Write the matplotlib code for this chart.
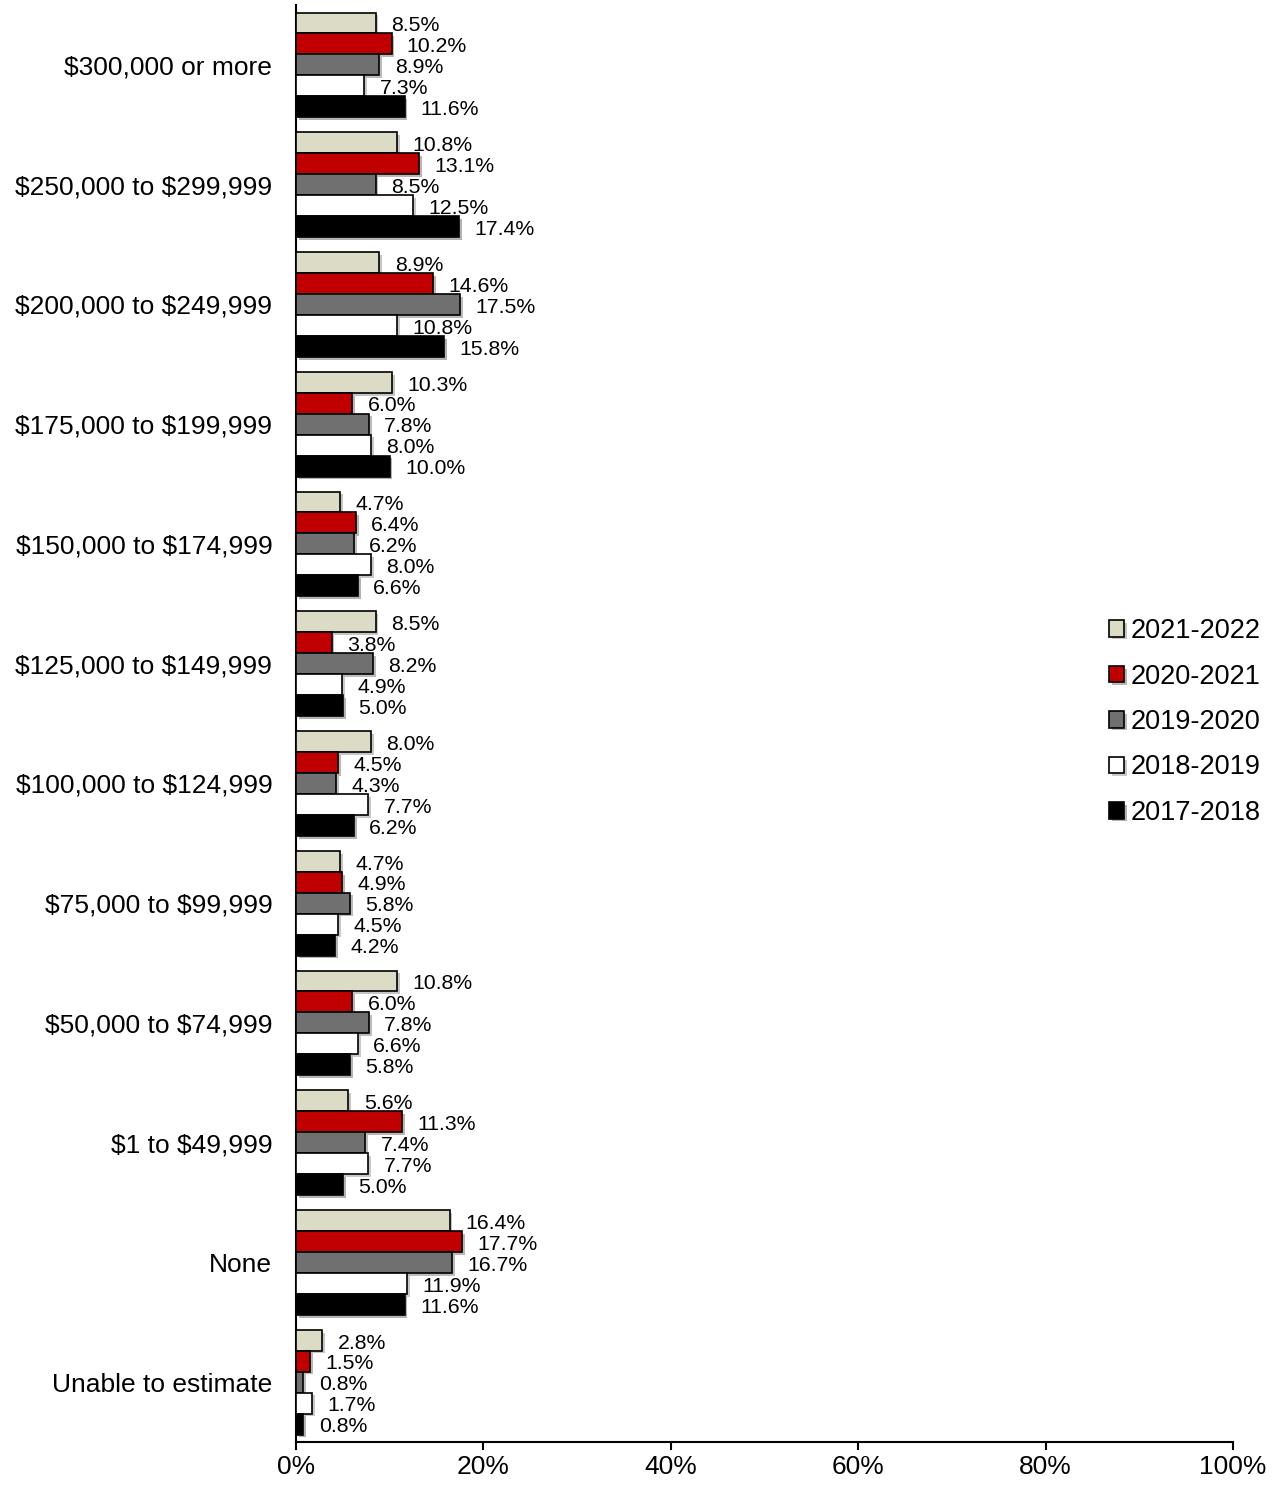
import matplotlib.pyplot as plt
import matplotlib.patheffects as pe
import numpy as np

plt.rcParams['font.family'] = ['Liberation Sans', 'DejaVu Sans']
plt.rcParams['text.parse_math'] = False

categories = ["$300,000 or more", "$250,000 to $299,999", "$200,000 to $249,999",
              "$175,000 to $199,999", "$150,000 to $174,999", "$125,000 to $149,999",
              "$100,000 to $124,999", "$75,000 to $99,999", "$50,000 to $74,999",
              "$1 to $49,999", "None", "Unable to estimate"]
years = ["2021-2022", "2020-2021", "2019-2020", "2018-2019", "2017-2018"]
v2021 = [8.5, 10.8, 8.9, 10.3, 4.7, 8.5, 8.0, 4.7, 10.8, 5.6, 16.4, 2.8]
v2020 = [10.2, 13.1, 14.6, 6.0, 6.4, 3.8, 4.5, 4.9, 6.0, 11.3, 17.7, 1.5]
v2019 = [8.9, 8.5, 17.5, 7.8, 6.2, 8.2, 4.3, 5.8, 7.8, 7.4, 16.7, 0.8]
v2018 = [7.3, 12.5, 10.8, 8.0, 8.0, 4.9, 7.7, 4.5, 6.6, 7.7, 11.9, 1.7]
v2017 = [11.6, 17.4, 15.8, 10.0, 6.6, 5.0, 6.2, 4.2, 5.8, 5.0, 11.6, 0.8]
series = [v2021, v2020, v2019, v2018, v2017]
colors = ["#DCDCC6", "#C00000", "#707070", "#FFFFFF", "#000000"]

fig = plt.figure(figsize=(12.78, 14.88), dpi=100)
ax = fig.add_axes([0.2316, 0.0309, 0.7332, 0.9657])

y = np.arange(len(categories))
step = 0.175
shadow = [pe.SimplePatchShadow(offset=(2, -2), alpha=0.3), pe.Normal()]
handles = []
for k, (vals, col, yr) in enumerate(zip(series, colors, years)):
    pos = y + (k - 2) * step
    bars = ax.barh(pos, vals, height=step, color=col, edgecolor="black",
                   linewidth=1.2, label=yr, zorder=3)
    for b in bars:
        b.set_path_effects(shadow)
    handles.append(bars)
    for p, v in zip(pos, vals):
        ax.annotate(f"{v:.1f}%", (v, p), xytext=(11, -2), textcoords="offset points",
                    ha="left", va="center", fontsize=15.3)

ax.set_ylim(len(categories) - 0.5, -0.5)
ax.set_xlim(0, 100)
ax.set_yticks(y)
ax.set_yticklabels(categories, fontsize=19)
ax.tick_params(axis="y", length=0, pad=17)
ax.set_xticks(range(0, 101, 20))
ax.set_xticklabels([f"{t}%" for t in range(0, 101, 20)], fontsize=19)
ax.tick_params(axis="x", length=6, width=1.5, direction="out")
for s in ["top", "right"]:
    ax.spines[s].set_visible(False)
for s in ["left", "bottom"]:
    ax.spines[s].set_linewidth(1.5)

fig.legend(handles=handles, labels=years, loc="center left",
           bbox_to_anchor=(1085 / 1278, 1 - 722 / 1488), frameon=False,
           fontsize=19.5, handlelength=0.55, handleheight=0.55, handletextpad=0.25,
           labelspacing=0.72)

fig.savefig("out.png", dpi=100)
